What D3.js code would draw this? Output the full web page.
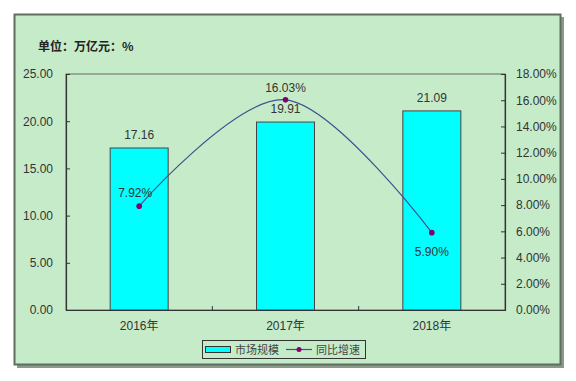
<!DOCTYPE html>
<html><head><meta charset="utf-8">
<script src="https://cdn.jsdelivr.net/npm/d3@7"></script>
<style>body{margin:0;background:#fff}svg{display:block}</style>
</head><body>
<svg id="c" width="576" height="381"></svg>
<script>
const categories = ["2016年","2017年","2018年"];
const marketSize = [17.16, 19.91, 21.09];
const growth = [7.92, 16.03, 5.90];
const leftTicks = [0,5,10,15,20,25];
const rightTicks = [0,2,4,6,8,10,12,14,16,18];
const seriesNames = ["市场规模","同比增速"];
const unitTitle = "单位：万亿元：%";

const svg = d3.select("#c");
const bg = "#c6ebc9";
const font = "'Liberation Sans', Arial, 'Noto Sans CJK SC', sans-serif";
const txt = "#333";

// frame with shadow
svg.append("rect").attr("x",17).attr("y",17).attr("width",547).attr("height",351).attr("fill","#8a9a8a");
svg.append("rect").attr("x",14.5).attr("y",14.5).attr("width",546).attr("height",350)
  .attr("fill",bg).attr("stroke","#5f6f5f").attr("stroke-width",2);

const L=66, R=505, T=74, B=310;
const x = d3.scaleBand().domain(categories).range([L,R]);
const yL = d3.scaleLinear().domain([0,25]).range([B,T]);
const yR = d3.scaleLinear().domain([0,18]).range([B,T]);

svg.append("text").attr("x",38).attr("y",51).attr("font-family","'Noto Sans CJK SC', sans-serif")
  .attr("font-size",12).attr("font-weight","bold").attr("fill","#222").text(unitTitle);

// plot border
svg.append("rect").attr("x",L).attr("y",T).attr("width",R-L).attr("height",B-T)
  .attr("fill","none").attr("stroke","#666").attr("stroke-width",1);

// bars
const bw = 58;
svg.selectAll(".bar").data(marketSize).join("rect")
  .attr("x",(d,i)=>x(categories[i])+x.bandwidth()/2-bw/2)
  .attr("y",d=>yL(d)).attr("width",bw).attr("height",d=>B-yL(d))
  .attr("fill","#00ffff").attr("stroke","#444").attr("stroke-width",1);

// axes
const gL = svg.append("g").attr("transform",`translate(${L},0)`)
  .call(d3.axisLeft(yL).tickValues(leftTicks).tickSize(-4).tickPadding(13).tickFormat(d3.format(".2f")));
const gR = svg.append("g").attr("transform",`translate(${R},0)`)
  .call(d3.axisRight(yR).tickValues(rightTicks).tickSize(-4).tickPadding(11).tickFormat(d=>d.toFixed(2)+"%"));
const gX = svg.append("g").attr("transform",`translate(0,${B})`)
  .call(d3.axisBottom(x).tickSize(0).tickPadding(11));
[gL,gR,gX].forEach(g=>{
  g.select(".domain").attr("stroke","#333").attr("stroke-width",1.2);
  g.selectAll(".tick line").attr("stroke","#333");
  g.selectAll("text").attr("font-family",font).attr("font-size",12).attr("fill",txt);
});
// x category separator ticks
svg.selectAll(".xsep").data(categories.slice(1)).join("line")
  .attr("x1",d=>x(d)).attr("x2",d=>x(d)).attr("y1",B).attr("y2",B-4).attr("stroke","#333");

// line
const cx = (i)=>x(categories[i])+x.bandwidth()/2;
const line = d3.line().x((d,i)=>cx(i)).y(d=>yR(d)).curve(d3.curveCatmullRom.alpha(0));
svg.append("path").datum(growth).attr("d",line).attr("fill","none").attr("stroke","#3f4f8f").attr("stroke-width",1.2);
svg.selectAll(".pt").data(growth).join("circle").attr("cx",(d,i)=>cx(i)).attr("cy",d=>yR(d)).attr("r",2.8).attr("fill","#800070");

// bar labels
svg.selectAll(".bl").data(marketSize).join("text")
  .attr("x",(d,i)=>cx(i)).attr("y",d=>yL(d)-9).attr("text-anchor","middle")
  .attr("font-family",font).attr("font-size",12).attr("fill",txt).text(d=>d.toFixed(2));
// line labels
const off = [-9,-8,23];
const dx = [-4,0,0];
svg.selectAll(".ll").data(growth).join("text")
  .attr("x",(d,i)=>cx(i)+dx[i]).attr("y",(d,i)=>yR(d)+off[i]).attr("text-anchor","middle")
  .attr("font-family",font).attr("font-size",12).attr("fill",txt).text(d=>d.toFixed(2)+"%");

// legend
const lg = svg.append("g");
lg.append("rect").attr("x",202.5).attr("y",340.5).attr("width",163).attr("height",18).attr("fill",bg).attr("stroke","#333");
lg.append("rect").attr("x",205.5).attr("y",346.5).attr("width",25).attr("height",6).attr("fill","#00ffff").attr("stroke","#333");
lg.append("text").attr("x",235).attr("y",354).attr("font-family","'Noto Sans CJK SC', sans-serif").attr("font-size",11).attr("fill","#444").text(seriesNames[0]);
lg.append("line").attr("x1",286).attr("x2",312).attr("y1",349.5).attr("y2",349.5).attr("stroke","#3f4f8f").attr("stroke-width",1.2);
lg.append("circle").attr("cx",299).attr("cy",349.5).attr("r",2.5).attr("fill","#800070");
lg.append("text").attr("x",316).attr("y",354).attr("font-family","'Noto Sans CJK SC', sans-serif").attr("font-size",11).attr("fill","#444").text(seriesNames[1]);
</script>
</body></html>
